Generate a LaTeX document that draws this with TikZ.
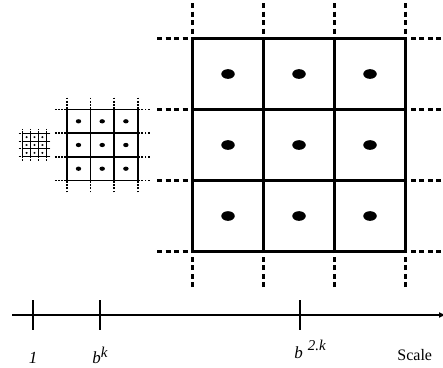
\documentclass[tikz,border=0pt]{standalone}
\usepackage{fontspec}
\setmainfont{Liberation Serif}
\usetikzlibrary{arrows.meta}

\begin{document}
\begin{tikzpicture}[
    x=1pt, y=-1pt,
    thick,
    dot/.style = {fill=black},
    tick/.style = {line width=1.8pt},
    axis/.style = {line width=1.6pt, -{Latex[length=7pt, width=6pt]}},
    lbl/.style = {inner sep=0pt, font=\fontsize{17}{17}\selectfont},
    sup/.style = {font=\fontsize{14}{14}\selectfont}
    ]

    \useasboundingbox (0,0) rectangle (443,367);

    \foreach \cx/\cs/\lw/\don/\doff/\rx/\ry in {34.5/7.9/1.0/0.9/0.5/0.15/0.13,
            102.2/23.7/1.7/1.8/1.4/0.115/0.09, 299/71/2.05/5/3.5/0.095/0.068} {
      \begin{scope}[shift={(\cx,145)}, line width=\lw]
        \foreach \i in {-1.5,-0.5,0.5,1.5} {
          \draw (\i*\cs,-1.5*\cs) -- (\i*\cs,1.5*\cs);
          \draw (-1.5*\cs,\i*\cs) -- (1.5*\cs,\i*\cs);
          \draw[dash pattern=on \don pt off \doff pt] (\i*\cs,-2*\cs) -- (\i*\cs,-1.5*\cs);
          \draw[dash pattern=on \don pt off \doff pt] (\i*\cs,2*\cs) -- (\i*\cs,1.5*\cs);
          \draw[dash pattern=on \don pt off \doff pt] (-2*\cs,\i*\cs) -- (-1.5*\cs,\i*\cs);
          \draw[dash pattern=on \don pt off \doff pt] (2*\cs,\i*\cs) -- (1.5*\cs,\i*\cs);
        }
        \foreach \i in {-1,0,1}
          \foreach \j in {-1,0,1}
            \fill[dot] (\i*\cs,\j*\cs) ellipse [x radius=\rx*\cs, y radius=\ry*\cs];
      \end{scope}
    }

    \coordinate (axL) at (12,315);
    \coordinate (axR) at (446,315);
    \draw[axis] (axL) -- (axR);

    \foreach \tx/\tn in {33/t1, 100/tk, 300/tkk} {
      \coordinate (\tn) at (\tx,315);
      \draw[tick] ([yshift=15pt]\tn) -- ([yshift=-15pt]\tn);
    }

    \node[lbl, anchor=base] (l1) at (33,363) {\textit{1}};
    \node[lbl, anchor=base west] (lk) at (92,363)
        {\textit{b}\raisebox{6pt}{\fontsize{15}{15}\selectfont\textit{k}}};
    \node[lbl, anchor=base west] (lkk) at (294,358)
        {\textit{b}\hspace{5pt}\raisebox{8pt}{\fontsize{15}{15}\selectfont\textit{2.k}}};
    \node[lbl, font=\fontsize{16}{16}\selectfont, anchor=base west] (lscale) at (397,360) {Scale};
\end{tikzpicture}
\end{document}
